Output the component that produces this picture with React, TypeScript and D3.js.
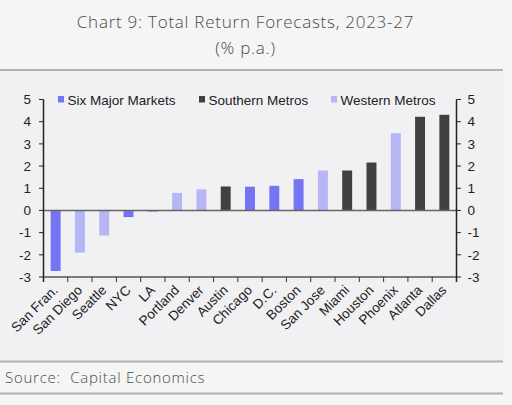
import React from "react";
import * as d3 from "d3";

const categories = ["San Fran.", "San Diego", "Seattle", "NYC", "LA", "Portland", "Denver", "Austin", "Chicago", "D.C.", "Boston", "San Jose", "Miami", "Houston", "Phoenix", "Atlanta", "Dallas"];
const values = [-2.73, -1.9, -1.13, -0.3, -0.05, 0.79, 0.95, 1.08, 1.07, 1.11, 1.41, 1.8, 1.8, 2.16, 3.48, 4.22, 4.31];
const groups = ["six", "west", "west", "six", "six", "west", "west", "south", "six", "six", "six", "west", "south", "south", "west", "south", "south"];
const legendKeys = ["six", "south", "west"];
const legendLabels = ["Six Major Markets", "Southern Metros", "Western Metros"];
const yTicks = [-3, -2, -1, 0, 1, 2, 3, 4, 5];

const colors: Record<string, string> = { six: "#7474f5", south: "#404040", west: "#b6b6f5" };

export default function App() {
  const W = 512, H = 405;
  const left = 43.5, right = 456.5, top = 99.5, bottom = 277;
  const y = d3.scaleLinear().domain([-3, 5]).range([bottom, top]);
  const xb = d3.scaleBand<string>().domain(categories).range([left, right]).paddingInner(0.59).paddingOuter(0.295);
  const xt = d3.scaleBand<string>().domain(categories).range([left, right]).padding(0);
  const tickXs = categories.map((c) => xt(c) as number).concat([right]);
  const legendX = [58, 199, 331];
  const font = "Arial, 'Liberation Sans', sans-serif";
  const tfont = "'Open Sans', Lato, sans-serif";
  const fs = 13.5;
  return (
    <svg width={W} height={H} style={{ position: "absolute", left: 0, top: 0 }} fontFamily={font}>
      <rect x={0} y={0} width={W} height={H} fill="#f5f5f5" />
      <rect x={0} y={71} width={503} height={290} fill="#f1f1f3" />
      <text x={245.5} y={27.5} textAnchor="middle" fontFamily={tfont} fontWeight={300} fontSize={17} letterSpacing={0.75} fill="#4a4a4a">Chart 9: Total Return Forecasts, 2023-27</text>
      <text x={245.5} y={53.5} textAnchor="middle" fontFamily={tfont} fontWeight={300} fontSize={17} letterSpacing={0.75} fill="#4a4a4a">(% p.a.)</text>
      <line x1={0} x2={503} y1={70} y2={70} stroke="#b0afb8" strokeWidth={2} />
      <line x1={0} x2={503} y1={361.5} y2={361.5} stroke="#b0afb8" strokeWidth={2} />
      <line x1={0} x2={503} y1={393.5} y2={393.5} stroke="#b0afb8" strokeWidth={2} />
      <text x={5} y={383} fontFamily={tfont} fontWeight={300} fontSize={15} letterSpacing={0.75} fill="#4a4a4a" style={{ whiteSpace: "pre" }}>Source:  Capital Economics</text>

      {/* legend */}
      {legendKeys.map((k, i) => (
        <g key={k}>
          <rect x={legendX[i]} y={96} width={6} height={6.5} fill={colors[k]} />
          <text x={legendX[i] + 9.5} y={104.5} fontSize={fs} fill="#222">{legendLabels[i]}</text>
        </g>
      ))}

      {/* bars */}
      {categories.map((c, i) => (
        <rect key={c} x={xb(c)} width={xb.bandwidth()} y={y(Math.max(0, values[i]))} height={Math.abs(y(values[i]) - y(0))} fill={colors[groups[i]]} />
      ))}

      {/* zero line */}
      <line x1={left} x2={right} y1={y(0)} y2={y(0)} stroke="#666" strokeWidth={1.5} />

      {/* x axis */}
      <line x1={left} x2={right} y1={bottom} y2={bottom} stroke="#555" strokeWidth={1.5} />
      {tickXs.map((tx, i) => (
        <line key={i} x1={tx} x2={tx} y1={bottom} y2={bottom + 5} stroke="#333" strokeWidth={1} />
      ))}
      {categories.map((c) => {
        const cx = (xt(c) as number) + xt.bandwidth() / 2;
        return (
          <text key={c} transform={`translate(${cx + 3},${291}) rotate(-45)`} textAnchor="end" fontSize={fs} fill="#222">{c}</text>
        );
      })}

      {/* left axis */}
      <line x1={left} x2={left} y1={top} y2={bottom + 5} stroke="#222" strokeWidth={1.5} />
      {yTicks.map((t) => (
        <g key={"l" + t}>
          <line x1={left - 4.5} x2={left} y1={y(t)} y2={y(t)} stroke="#222" strokeWidth={1} />
          <text x={31} y={y(t)} dy="0.35em" textAnchor="end" fontSize={fs} fill="#222">{t}</text>
        </g>
      ))}

      {/* right axis */}
      <line x1={right} x2={right} y1={top} y2={bottom + 5} stroke="#222" strokeWidth={1.5} />
      {yTicks.map((t) => (
        <g key={"r" + t}>
          <line x1={right} x2={right + 4.5} y1={y(t)} y2={y(t)} stroke="#222" strokeWidth={1} />
          <text x={467.5} y={y(t)} dy="0.35em" textAnchor="start" fontSize={fs} fill="#222">{t}</text>
        </g>
      ))}
    </svg>
  );
}
